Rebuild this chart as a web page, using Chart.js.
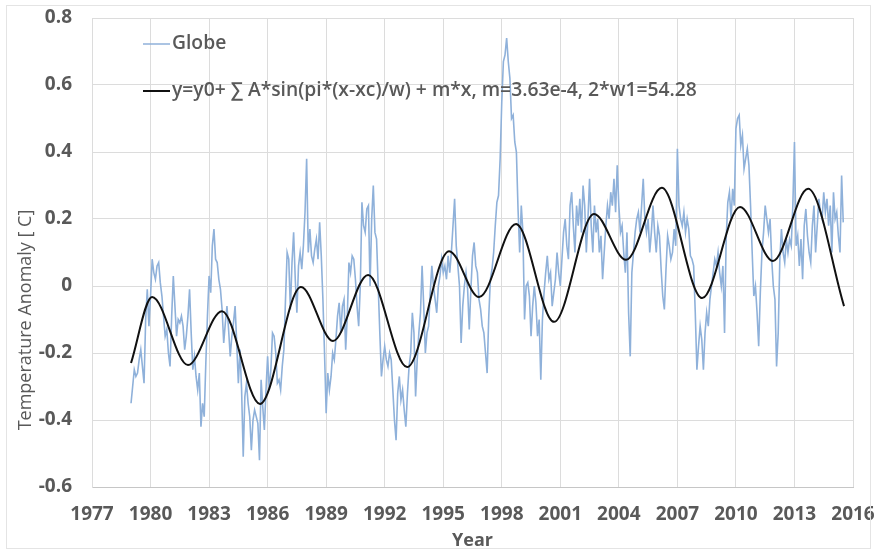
<!DOCTYPE html>
<html>
<head>
<meta charset="utf-8">
<script src="https://cdn.jsdelivr.net/npm/chart.js@4.4.1/dist/chart.umd.min.js"></script>
<style>
  html, body { margin: 0; padding: 0; background: #fff; }
  #chart { display: block; }
</style>
</head>
<body>
<canvas id="chart" width="877" height="554"></canvas>
<script>
// monthly anomalies, Jan 1979 .. Jul 2015
const startYear = 1979;
const globe = [
  -0.35, -0.30, -0.25, -0.27, -0.26, -0.22, -0.19, -0.24, -0.29, -0.10, -0.01, -0.12,
  -0.03, 0.08, 0.04, 0.02, 0.06, 0.07, 0.01, -0.03, -0.09, -0.15, -0.13, -0.20,
  -0.24, -0.09, 0.03, -0.06, -0.15, -0.10, -0.11, -0.09, -0.12, -0.19, -0.15, -0.09,
  -0.01, -0.14, -0.25, -0.21, -0.27, -0.31, -0.26, -0.42, -0.35, -0.39, -0.23, -0.09,
  0.03, -0.02, 0.12, 0.17, 0.08, 0.07, 0.02, -0.01, -0.07, -0.17, -0.11, -0.06,
  -0.13, -0.21, -0.15, -0.11, -0.06, -0.17, -0.29, -0.19, -0.31, -0.51, -0.33, -0.29,
  -0.35, -0.39, -0.49, -0.40, -0.37, -0.39, -0.41, -0.52, -0.28, -0.36, -0.43, -0.31,
  -0.21, -0.31, -0.25, -0.14, -0.15, -0.20, -0.29, -0.28, -0.31, -0.24, -0.19, -0.04,
  0.10, 0.08, -0.07, 0.07, 0.16, 0.02, -0.08, 0.06, 0.10, 0.05, 0.12, 0.22,
  0.38, 0.10, 0.17, 0.09, 0.07, 0.11, 0.14, 0.08, 0.19, 0.09, -0.04, -0.20,
  -0.38, -0.26, -0.31, -0.27, -0.20, -0.22, -0.16, -0.09, -0.05, -0.14, -0.06, -0.04,
  -0.19, -0.09, 0.07, 0.04, 0.09, 0.08, 0.02, -0.06, -0.12, 0.00, 0.25, 0.18,
  0.16, 0.23, 0.24, 0.00, 0.20, 0.30, 0.16, 0.14, 0.00, -0.14, -0.27, -0.22,
  -0.18, -0.22, -0.24, -0.20, -0.22, -0.31, -0.40, -0.46, -0.32, -0.27, -0.34, -0.31,
  -0.37, -0.42, -0.32, -0.24, -0.20, -0.08, -0.14, -0.33, -0.22, -0.14, -0.08, 0.06,
  -0.06, -0.20, -0.14, -0.12, -0.02, 0.06, 0.00, -0.04, -0.08, 0.00, 0.03, 0.08,
  0.04, 0.06, 0.02, 0.09, 0.04, 0.10, 0.18, 0.26, 0.12, 0.06, 0.00, -0.17,
  -0.06, 0.00, 0.04, -0.01, -0.13, -0.01, 0.09, 0.13, 0.06, 0.04, -0.04, -0.07,
  -0.12, -0.14, -0.20, -0.26, -0.09, 0.02, 0.05, 0.10, 0.18, 0.25, 0.27, 0.38,
  0.55, 0.67, 0.69, 0.74, 0.67, 0.62, 0.50, 0.51, 0.43, 0.40, 0.23, 0.10,
  0.24, 0.16, -0.10, 0.00, 0.01, -0.03, -0.15, -0.06, 0.00, -0.05, -0.15, -0.10,
  -0.28, -0.10, -0.02, 0.04, 0.09, 0.02, 0.04, -0.06, -0.02, 0.02, 0.10, 0.04,
  0.00, 0.08, 0.16, 0.20, 0.12, 0.08, 0.24, 0.28, 0.18, 0.10, 0.24, 0.18,
  0.26, 0.16, 0.30, 0.24, 0.10, 0.20, 0.32, 0.18, 0.10, 0.24, 0.16, 0.20,
  0.10, 0.15, 0.02, 0.10, 0.18, 0.24, 0.20, 0.28, 0.24, 0.32, 0.22, 0.36,
  0.24, 0.16, 0.18, 0.10, 0.04, 0.16, -0.08, -0.21, 0.04, 0.10, 0.16, 0.20,
  0.22, 0.16, 0.24, 0.32, 0.20, 0.16, 0.20, 0.10, 0.16, 0.24, 0.16, 0.10,
  0.18, 0.15, 0.05, -0.03, -0.07, 0.05, 0.15, 0.12, 0.08, 0.10, 0.17, 0.12,
  0.41, 0.24, 0.20, 0.18, 0.22, 0.16, 0.20, 0.17, 0.09, 0.08, 0.06, -0.08,
  -0.25, -0.18, -0.12, -0.16, -0.25, -0.14, -0.08, -0.12, -0.04, 0.00, 0.04, 0.08,
  0.06, 0.10, 0.04, 0.00, 0.06, -0.14, 0.14, 0.25, 0.28, 0.20, 0.29, 0.24,
  0.47, 0.50, 0.51, 0.42, 0.45, 0.35, 0.38, 0.41, 0.36, 0.24, 0.10, -0.03,
  0.00, -0.08, -0.18, -0.02, 0.10, 0.16, 0.24, 0.20, 0.16, 0.20, 0.08, 0.00,
  -0.04, -0.24, -0.14, 0.08, 0.17, 0.10, 0.07, 0.14, 0.10, 0.14, 0.12, 0.24,
  0.43, 0.12, 0.15, 0.06, 0.14, 0.02, 0.18, 0.23, 0.15, 0.10, 0.07, 0.18,
  0.24, 0.10, 0.18, 0.26, 0.22, 0.20, 0.28, 0.22, 0.26, 0.18, 0.24, 0.10,
  0.28, 0.20, 0.22, 0.15, 0.10, 0.33, 0.19
];

// fitted curve, read at its turning points
const fitYears = [1979.0, 1980.08, 1981.92, 1983.66, 1985.61, 1987.71, 1989.35, 1991.15, 1993.15, 1995.3,
  1996.84, 1998.73, 2000.68, 2002.73, 2004.37, 2006.2, 2008.27, 2010.21, 2011.9, 2013.7, 2015.54];
const fitValues = [-0.23, -0.033, -0.236, -0.075, -0.352, -0.003, -0.164, 0.033, -0.242, 0.104,
  -0.033, 0.185, -0.107, 0.215, 0.078, 0.293, -0.036, 0.236, 0.075, 0.29, -0.06];

const xTicks = [1977, 1980, 1983, 1986, 1989, 1992, 1995, 1998, 2001, 2004, 2007, 2010, 2013, 2016];
const yTicks = [-0.6, -0.4, -0.2, 0, 0.2, 0.4, 0.6, 0.8];

const globeLabel = 'Globe';
const fitLabel = 'y=y0+ \u2211 A*sin(pi*(x-xc)/w) + m*x, m=3.63e-4, 2*w1=54.28';

const textColor = '#595959';
const gridColor = '#dcdcdc';
const blue = '#8fb1da';

const extras = {
  id: 'extras',
  afterDraw(chart) {
    const ctx = chart.ctx;
    const a = chart.chartArea;
    ctx.save();
    // chart frame
    ctx.strokeStyle = '#e4e4e4';
    ctx.lineWidth = 1;
    ctx.strokeRect(6.5, 5.5, 864, 543);

    // legend inside the plot
    ctx.font = '600 19.3px "Open Sans"';
    ctx.textBaseline = 'middle';
    ctx.fillStyle = textColor;
    ctx.lineWidth = 1.5;
    ctx.strokeStyle = blue;
    ctx.beginPath(); ctx.moveTo(143, 44); ctx.lineTo(170, 44); ctx.stroke();
    ctx.fillText(globeLabel, 172, 44);
    ctx.lineWidth = 2;
    ctx.strokeStyle = '#111';
    ctx.beginPath(); ctx.moveTo(143, 91); ctx.lineTo(170, 91); ctx.stroke();
    ctx.fillText(fitLabel, 172, 91);

    // axis titles
    ctx.font = 'bold 18px "Open Sans"';
    ctx.textAlign = 'center';
    ctx.fillText('Year', (a.left + a.right) / 2, 541);
    ctx.translate(26, 320);
    ctx.rotate(-Math.PI / 2);
    ctx.font = '18px "Open Sans"';
    ctx.fillText('Temperature Anomaly [ C]', 0, 0);
    ctx.restore();
  }
};

new Chart(document.getElementById('chart'), {
  type: 'line',
  data: {
    datasets: [
      {
        label: fitLabel,
        data: fitYears.map((x, i) => ({ x: x, y: fitValues[i] })),
        borderColor: '#111',
        borderWidth: 2,
        pointRadius: 0,
        cubicInterpolationMode: 'monotone',
        fill: false
      },
      {
        label: globeLabel,
        data: globe.map((v, i) => ({ x: startYear + i / 12, y: v })),
        borderColor: blue,
        borderWidth: 1.6,
        pointRadius: 0,
        tension: 0,
        fill: false
      }
    ]
  },
  options: {
    responsive: false,
    animation: false,
    devicePixelRatio: 1,
    layout: { padding: { top: 18, right: 24, left: 0, bottom: 0 } },
    plugins: { legend: { display: false }, tooltip: { enabled: false } },
    scales: {
      x: {
        type: 'linear',
        min: 1977,
        max: 2016,
        afterBuildTicks: s => { s.ticks = xTicks.map(v => ({ value: v })); },
        afterFit: s => { s.height = 67; s.paddingLeft = 0; s.paddingRight = 0; },
        grid: { color: gridColor, drawTicks: false },
        border: { color: '#c6c6c6' },
        ticks: {
          padding: 16,
          color: textColor,
          font: { family: 'Open Sans', size: 19, weight: 'bold' },
          maxRotation: 0,
          autoSkip: false,
          callback: v => String(v)
        }
      },
      y: {
        min: -0.6,
        max: 0.8,
        afterBuildTicks: s => { s.ticks = yTicks.map(v => ({ value: v })); },
        afterFit: s => { s.width = 92; s.paddingTop = 0; s.paddingBottom = 0; },
        grid: { color: gridColor, drawTicks: false },
        border: { color: gridColor },
        ticks: {
          padding: 20,
          color: textColor,
          font: { family: 'Open Sans', size: 19, weight: 'bold' },
          callback: v => String(+v.toFixed(1))
        }
      }
    }
  },
  plugins: [extras]
});
</script>
</body>
</html>
